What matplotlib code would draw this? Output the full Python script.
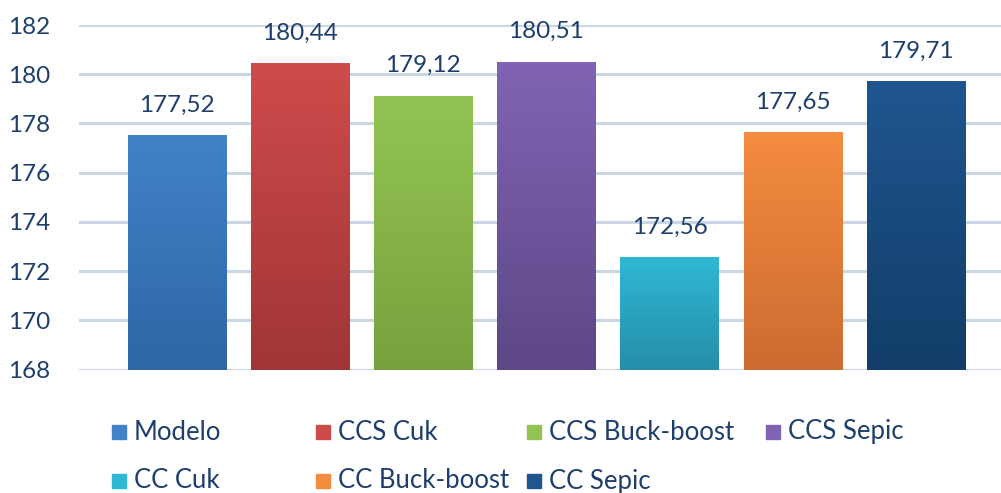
import numpy as np
import matplotlib.pyplot as plt
from matplotlib.patches import Rectangle
from matplotlib.colors import LinearSegmentedColormap

categorias = ["Modelo", "CCS Cuk", "CCS Buck-boost", "CCS Sepic",
              "CC Cuk", "CC Buck-boost", "CC Sepic"]
valores = [177.52, 180.44, 179.12, 180.51, 172.56, 177.65, 179.71]
etiquetas = ["177,52", "180,44", "179,12", "180,51", "172,56", "177,65", "179,71"]
yticks = [168, 170, 172, 174, 176, 178, 180, 182]

# (color arriba, color abajo)
colores = [("#4182C8", "#2F66A4"), ("#CE4B4B", "#A13535"), ("#93C453", "#77A13E"),
           ("#8064B3", "#5D4787"), ("#2FB8D4", "#248EA8"), ("#F48C40", "#CD6B31"),
           ("#1F5690", "#123D68")]
texto = "#1E3F6E"

plt.rcParams['font.family'] = ['Lato', 'DejaVu Sans']

fig = plt.figure(figsize=(10.01, 4.93), dpi=100)
ax = fig.add_axes([79/1001, 1-369.5/493, 1-79/1001, (369.5-25)/493])

x = np.arange(len(categorias))
barras = ax.bar(x, np.array(valores) - 168, bottom=168, width=0.8,
                color=[c[0] for c in colores], zorder=2)

# degradado vertical en cada barra
for b, (c1, c2) in zip(barras, colores):
    cmap = LinearSegmentedColormap.from_list("g", [c2, c1])
    grad = np.linspace(0, 1, 100).reshape(-1, 1)
    x0, y0 = b.get_x(), b.get_y()
    im = ax.imshow(grad, cmap=cmap, origin="lower", aspect="auto",
                   extent=[x0, x0 + b.get_width(), y0, y0 + b.get_height()], zorder=3)
    im.set_clip_path(b)

for xi, v, t in zip(x, valores, etiquetas):
    ax.text(xi, v + 0.8, t, ha="center", va="bottom", fontsize=17.5, color=texto, zorder=4)

ax.set_xlim(-0.795, 6.69)
ax.set_ylim(168, 182)
ax.set_yticks(yticks)
ax.set_xticks([])
ax.tick_params(axis="y", length=0, pad=21, labelsize=17.5, labelcolor=texto)
ax.grid(axis="y", color="#C9D6E4", linewidth=2.2, zorder=0)
ax.set_axisbelow(True)
for s in ax.spines.values():
    s.set_visible(False)

# leyenda manual (2 filas x 4 columnas)
col_x = [[112, 316, 527, 766], [112, 316, 527]]
fila_y = [432, 481]
for i, (nom, (c1, c2)) in enumerate(zip(categorias, colores)):
    fila, col = divmod(i, 4)
    px, py = col_x[fila][col], fila_y[fila]
    fig.patches.append(Rectangle((px / 1001, 1 - (py + 7) / 493), 14 / 1001, 14 / 493,
                                 transform=fig.transFigure, color=c1))
    fig.text((px + 22) / 1001, 1 - py / 493, nom, fontsize=18.5, color=texto,
             va="center", ha="left")

fig.savefig("out.png", dpi=100)
